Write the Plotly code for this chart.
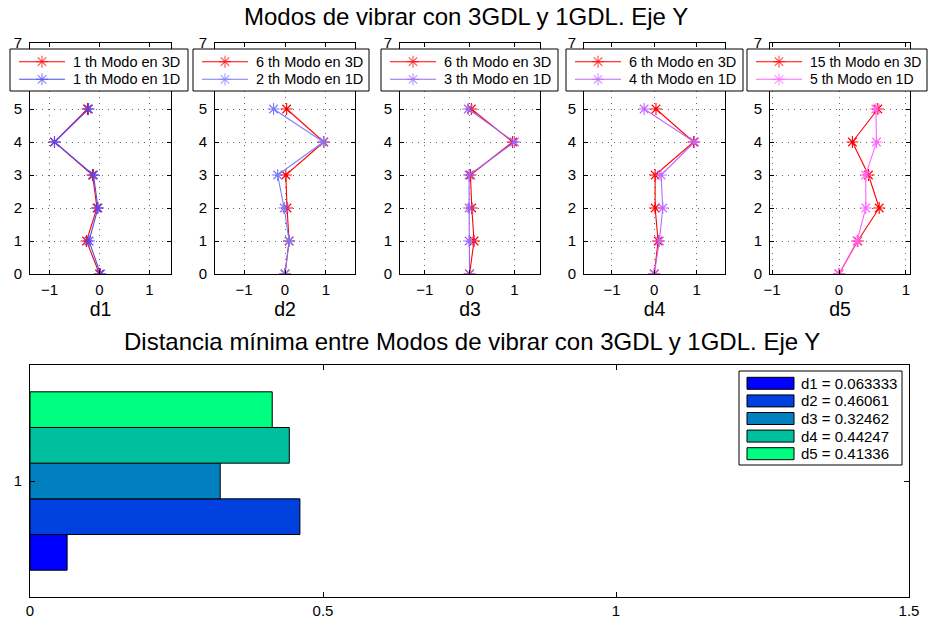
import plotly.graph_objects as go

# ---- data -------------------------------------------------------------
niveles = [0, 1, 2, 3, 4, 5]

d1_3d = [0.00, -0.26, -0.05, -0.14, -0.90, -0.24]
d1_1d = [0.02, -0.21, -0.03, -0.12, -0.90, -0.22]
d2_3d = [0.00, 0.10, 0.05, 0.02, 0.95, 0.04]
d2_1d = [0.00, 0.10, -0.02, -0.18, 0.94, -0.28]
d3_3d = [0.00, 0.10, 0.05, 0.02, 0.96, 0.04]
d3_1d = [0.00, -0.01, -0.01, -0.01, 1.00, -0.03]
d4_3d = [0.00, 0.09, 0.02, 0.02, 0.93, 0.04]
d4_1d = [0.00, 0.12, 0.20, 0.16, 0.95, -0.24]
d5_3d = [0.00, 0.28, 0.60, 0.44, 0.20, 0.58]
d5_1d = [0.00, 0.27, 0.40, 0.40, 0.56, 0.55]

nombres_3d = ["1 th Modo en 3D", "6 th Modo en 3D", "6 th Modo en 3D",
              "6 th Modo en 3D", "15 th Modo en 3D"]
nombres_1d = ["1 th Modo en 1D", "2 th Modo en 1D", "3 th Modo en 1D",
              "4 th Modo en 1D", "5 th Modo en 1D"]
etiquetas_x = ["d1", "d2", "d3", "d4", "d5"]

distancias = [0.063333, 0.46061, 0.32462, 0.44247, 0.41336]

# ---- styling / layout (pixels) -------------------------------------------
W, H = 934, 618
FONT = "Liberation Sans"
ROJO = "#ff0000"
colores_1d = ["#4d4dff", "#7a7aff", "#9966ff", "#c266ff", "#ff66ff"]
colores_bar = ["#0000ff", "#0040df", "#0080bf", "#00bf9f", "#00ff80"]

paneles_px = [(30, 171), (215, 355), (400, 540), (584, 725), (770, 910)]
rangos_x = [[-1.39, 1.43], [-1.71, 1.71], [-1.55, 1.57], [-1.66, 1.67], [-1.03, 1.06]]
top_px, bot_px = 43, 274

# legend boxes of the upper panels: (left, right); shared top/bottom
leyendas_px = [(10, 188), (193, 369), (381, 558), (566, 743), (747, 927)]
leg_top, leg_bot = 49, 91
leg_rows = [61.7, 79.3]
leg_font = [14.5, 14.5, 14.5, 14.5, 14]

# legend box of the lower panel
bl, br, bt, bb = 739, 902, 371, 465
b_rows = [383.3 + 17.6 * k for k in range(5)]


def fx(p):
    return p / W


def fy(p):
    return 1 - p / H


GRID = dict(showgrid=True, gridcolor="rgba(0,0,0,0.6)", griddash="1px,5px", gridwidth=1)
AX = dict(ticks="inside", tickcolor="black", showline=True, linecolor="black",
          linewidth=1, mirror="ticks", zeroline=False, automargin=False,
          tickfont=dict(size=15, color="black", family=FONT))

fig = go.Figure()
series = [(d1_3d, d1_1d), (d2_3d, d2_1d), (d3_3d, d3_1d), (d4_3d, d4_1d), (d5_3d, d5_1d)]

for i, (s3, s1) in enumerate(series):
    k = "" if i == 0 else str(i + 1)
    for vals, nombre, col in [(s3, nombres_3d[i], ROJO), (s1, nombres_1d[i], colores_1d[i])]:
        fig.add_trace(go.Scatter(
            x=vals, y=niveles, mode="lines+markers", name=nombre,
            xaxis="x" + k, yaxis="y" + k, showlegend=False,
            line=dict(color=col, width=1.1),
            marker=dict(symbol="asterisk-open", size=10, color=col,
                        line=dict(width=1.1, color=col)),
        ))
    l, r = paneles_px[i]
    fig.layout["xaxis" + k] = dict(
        domain=[fx(l), fx(r)], range=rangos_x[i], anchor="y" + k,
        tickvals=[-1, 0, 1], ticklen=4, ticklabelstandoff=2, **AX, **GRID,
        title=dict(text=etiquetas_x[i], font=dict(size=19.5, color="black"), standoff=4),
    )
    fig.layout["yaxis" + k] = dict(
        domain=[fy(bot_px), fy(top_px)], range=[0, 7], anchor="x" + k,
        tickvals=[0, 1, 2, 3, 4, 5, 6, 7], ticklen=4, ticklabelstandoff=4, **AX, **GRID,
    )

# ---- lower panel: minimum distances --------------------------------------
etiquetas_bar = [f"d{j + 1} = {v:.5g}" for j, v in enumerate(distancias)]
for j, v in enumerate(distancias):
    fig.add_trace(go.Bar(
        x=[v], y=[1], orientation="h", name=etiquetas_bar[j],
        xaxis="x6", yaxis="y6", showlegend=False,
        marker=dict(color=colores_bar[j], line=dict(color="black", width=1)),
    ))

fig.update_layout(
    barmode="group", bargap=0.231, bargroupgap=0,
    xaxis6=dict(domain=[fx(30), fx(909)], range=[0, 1.5], anchor="y6",
                tickvals=[0, 0.5, 1, 1.5], ticktext=["0", "0.5", "1", "1.5"],
                ticklen=5, ticklabelstandoff=0, showgrid=False, **AX),
    yaxis6=dict(domain=[fy(597), fy(365)], range=[0.5, 1.5], anchor="x6",
                tickvals=[1], ticklen=5, ticklabelstandoff=4, showgrid=False, **AX),
    # overlay in pixel units, used for the legend boxes
    xaxis7=dict(domain=[0, 1], range=[0, W], anchor="y7", visible=False, fixedrange=True),
    yaxis7=dict(domain=[0, 1], range=[H, 0], anchor="x7", visible=False, fixedrange=True),
)


def caja(l, r, t, b):
    fig.add_trace(go.Scatter(
        x=[l, r, r, l, l], y=[t, t, b, b, t], mode="lines", fill="toself",
        fillcolor="white", line=dict(color="black", width=1),
        xaxis="x7", yaxis="y7", showlegend=False, hoverinfo="skip"))


def texto(x, y, s, size):
    fig.add_annotation(text=s, xref="paper", yref="paper", x=fx(x), y=fy(y),
                       xanchor="left", yanchor="middle", showarrow=False,
                       font=dict(size=size, color="black", family=FONT))


# upper legends
for i in range(5):
    l, r = leyendas_px[i]
    caja(l, r, leg_top, leg_bot)
    for row, nombre, col in zip(leg_rows, [nombres_3d[i], nombres_1d[i]], [ROJO, colores_1d[i]]):
        x0, x1 = l + 9, l + 55
        fig.add_trace(go.Scatter(
            x=[x0, (x0 + x1) / 2, x1], y=[row] * 3, mode="lines+markers",
            line=dict(color=col, width=1.1),
            marker=dict(symbol="asterisk-open", size=[0, 10, 0], color=col,
                        line=dict(width=1.1, color=col)),
            xaxis="x7", yaxis="y7", showlegend=False, hoverinfo="skip"))
        texto(l + 61, row, nombre, leg_font[i])

# lower legend
caja(bl, br, bt, bb)
for j, row in enumerate(b_rows):
    fig.add_trace(go.Scatter(
        x=[747, 794, 794, 747, 747], y=[row - 6, row - 6, row + 6, row + 6, row - 6],
        mode="lines", fill="toself", fillcolor=colores_bar[j],
        line=dict(color="black", width=1), xaxis="x7", yaxis="y7",
        showlegend=False, hoverinfo="skip"))
    texto(799, row, etiquetas_bar[j], 15)

# ---- titles --------------------------------------------------------------
fig.add_annotation(text="Modos de vibrar con 3GDL y 1GDL. Eje Y", xref="paper", yref="paper",
                   x=fx(466), y=fy(17), showarrow=False, xanchor="center", yanchor="middle",
                   font=dict(size=24, color="black", family=FONT))
fig.add_annotation(text="Distancia mínima entre Modos de vibrar con 3GDL y 1GDL. Eje Y",
                   xref="paper", yref="paper", x=fx(472), y=fy(341), showarrow=False,
                   xanchor="center", yanchor="middle",
                   font=dict(size=24, color="black", family=FONT))

fig.update_layout(
    width=W, height=H, margin=dict(l=0, r=0, t=0, b=0),
    paper_bgcolor="white", plot_bgcolor="rgba(0,0,0,0)",
    font=dict(family=FONT, color="black"),
    showlegend=False,
)

fig.write_html("out.html")
